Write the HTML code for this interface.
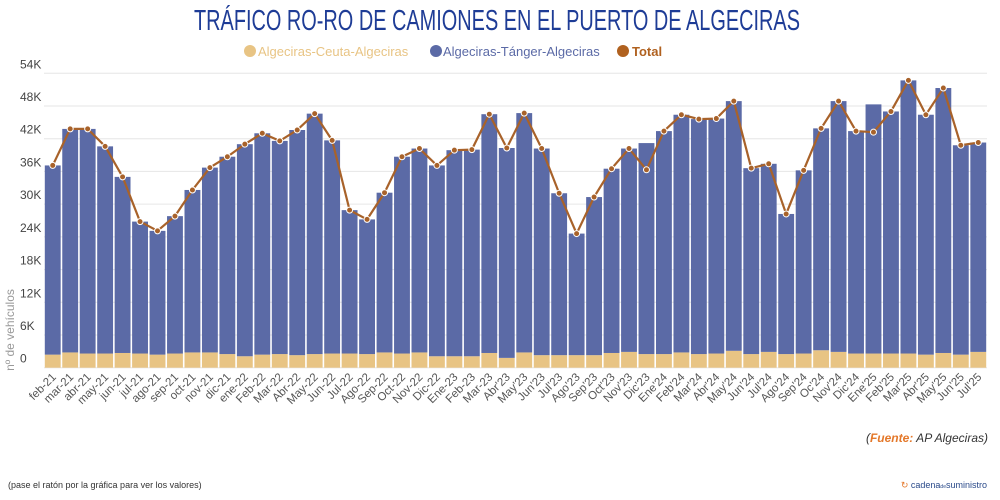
<!DOCTYPE html>
<html><head><meta charset="utf-8"><style>
body{margin:0;background:#fff;width:1000px;height:500px;overflow:hidden;font-family:"Liberation Sans",sans-serif}
svg{display:block}
</style></head><body>
<svg id="c" width="1000" height="500">
<text x="497" y="30" text-anchor="middle" font-family="'Liberation Sans Narrow','Liberation Sans',sans-serif" font-size="29" fill="#1e3c96" textLength="606" lengthAdjust="spacingAndGlyphs">TRÁFICO RO-RO DE CAMIONES EN EL PUERTO DE ALGECIRAS</text>
<g font-size="13">
<g><circle cx="250" cy="51" r="6" fill="#e8c484"/><text x="258" y="56" fill="#e8c484">Algeciras-Ceuta-Algeciras</text></g>
<g><circle cx="436" cy="51" r="6" fill="#5b6aa6"/><text x="443" y="56" fill="#5b6aa6">Algeciras-Tánger-Algeciras</text></g>
<g><circle cx="623" cy="51" r="6" fill="#b0611f"/><text x="632" y="56" fill="#b0611f" font-weight="bold">Total</text></g>
</g>
<text transform="translate(14,330) rotate(-90)" text-anchor="middle" font-size="12" fill="#999">nº de vehículos</text>
<g id="grid"></g><g id="bars"></g><g id="line"></g><g id="xl"></g>
<text x="988" y="442" text-anchor="end" font-size="12" font-style="italic" fill="#333">(<tspan fill="#e4782a" font-weight="bold">Fuente:</tspan> AP Algeciras)</text>
<text x="8" y="488" font-size="9" fill="#333">(pase el ratón por la gráfica para ver los valores)</text>
<text x="987" y="488" text-anchor="end" font-size="9" fill="#2a4a8a"><tspan fill="#e4782a">↻ </tspan>cadena<tspan font-size="5">de</tspan>suministro</text>
</svg>
<script>
const labels=["feb-21","mar-21","abr-21","may-21","jun-21","jul-21","ago-21","sep-21","oct-21","nov-21","dic-21","ene-22","Feb-22","Mar-22","Abr-22","May-22","Jun-22","Jul-22","Ago-22","Sep-22","Oct-22","Nov-22","Dic-22","Ene-23","Feb-23","Mar-23","Abr'23","May'23","Jun'23","Jul'23","Ago'23","Sep'23","Oct'23","Nov'23","Dic'23","Ene'24","Feb'24","Mar'24","Abr'24","May'24","Jun'24","Jul'24","Ago'24","Sep'24","Oc'24","Nov'24","Dic'24","Ene'25","Feb'25","Mar'25","Abr'25","May'25","Jun'25","Jul'25"];
const ceuta=[2.4,2.8,2.6,2.6,2.7,2.6,2.4,2.6,2.8,2.8,2.5,2.1,2.4,2.5,2.3,2.5,2.6,2.6,2.5,2.8,2.6,2.8,2.1,2.1,2.1,2.7,1.8,2.8,2.3,2.3,2.3,2.3,2.7,2.9,2.5,2.5,2.8,2.5,2.6,3.1,2.5,2.9,2.5,2.6,3.2,2.9,2.6,2.6,2.6,2.6,2.4,2.7,2.4,2.9];
const tanger=[34.7,41.0,41.2,38.0,32.3,24.2,22.7,25.2,29.8,33.9,36.2,38.9,40.6,39.1,41.3,44.1,39.1,26.3,24.7,29.3,36.1,37.4,35.0,37.8,37.9,43.8,38.5,43.9,37.9,29.7,22.3,29.0,33.8,37.3,38.7,40.9,43.6,43.1,43.1,45.8,34.1,34.5,25.7,33.6,40.7,46.0,40.8,45.7,44.4,50.1,44.0,48.6,38.4,38.4];
const total=[37.1,43.8,43.8,40.6,35.0,26.8,25.1,27.8,32.6,36.7,38.7,41.0,43.0,41.6,43.6,46.6,41.7,28.9,27.2,32.1,38.7,40.2,37.1,39.9,40.0,46.5,40.3,46.7,40.2,32.0,24.6,31.3,36.5,40.2,36.3,43.4,46.4,45.6,45.7,48.9,36.6,37.4,28.2,36.2,43.9,48.9,43.4,43.2,47.0,52.7,46.4,51.3,40.8,41.3];
const yTicks=[0,6,12,18,24,30,36,42,48,54];
const NS="http://www.w3.org/2000/svg";
const L=44,R=987,Y0=367.7,YT=73.3,YMAX=54;
const step=(R-L)/labels.length;
const y=v=>Y0-(v/YMAX)*(Y0-YT);
const xc=i=>L+step*(i+0.5);
function mk(t,a,p){const e=document.createElementNS(NS,t);for(const k in a)e.setAttribute(k,a[k]);document.getElementById(p).appendChild(e);return e;}
yTicks.forEach(t=>{
 const g=mk("line",{x1:L,x2:R,y1:y(t),y2:y(t),stroke:"#e6e6e6","stroke-width":1},"grid");
 
 
 const tx=mk("text",{x:20,y:y(t)-5,"font-size":12,fill:"#444"},"grid");
 tx.textContent=t===0?"0":t+"K";
 
 
});
const bw=step-1.6;
labels.forEach((lab,i)=>{
 const x0=xc(i)-bw/2;
 const b1=mk("rect",{x:x0,y:y(ceuta[i]),width:bw,height:Y0-y(ceuta[i]),fill:"#e8c484"},"bars");
 
 
 const b2=mk("rect",{x:x0,y:y(ceuta[i]+tanger[i]),width:bw,height:y(ceuta[i])-y(ceuta[i]+tanger[i]),fill:"#5b6aa6"},"bars");
 
 
 const t=mk("text",{transform:`translate(${xc(i)+4},${Y0+10}) rotate(-45)`,"text-anchor":"end","font-size":11.5,fill:"#555"},"xl");
 t.textContent=lab;
 
 
});
const pl=mk("polyline",{points:total.map((v,i)=>xc(i)+","+y(v)).join(" "),fill:"none",stroke:"#a8622a","stroke-width":2.2},"line");


total.forEach((v,i)=>{
 const c=mk("circle",{cx:xc(i),cy:y(v),r:3,fill:"#a8622a",stroke:"#fff","stroke-width":1},"line");
 
 
});
</script>
</body></html>
